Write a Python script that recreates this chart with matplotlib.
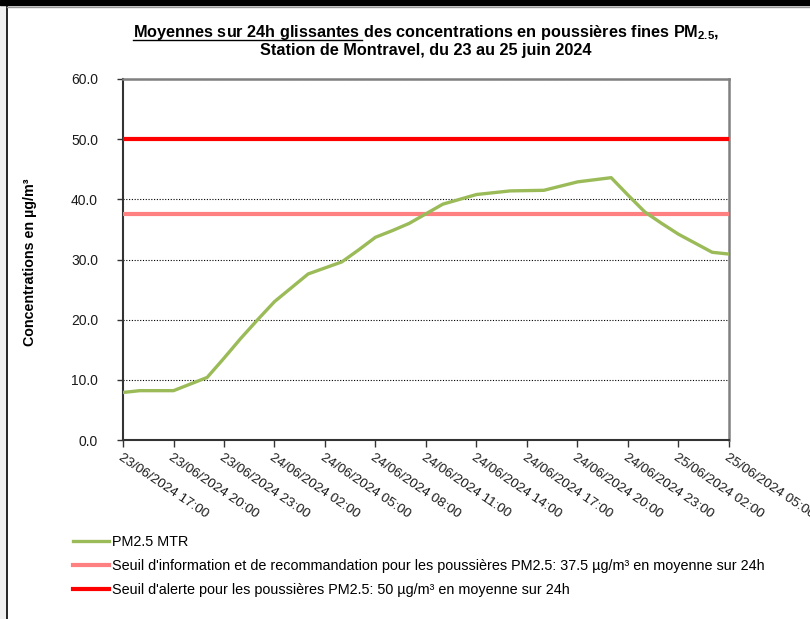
import matplotlib
matplotlib.use("Agg")
import matplotlib.pyplot as plt
from matplotlib.lines import Line2D
from matplotlib.patches import Rectangle

plt.rcParams['font.family'] = ['Liberation Sans', 'DejaVu Sans']
plt.rcParams['mathtext.fontset'] = 'custom'
plt.rcParams['mathtext.rm'] = 'Liberation Sans'
plt.rcParams['mathtext.bf'] = 'Liberation Sans:bold'

# hourly rolling 24h means, from 23/06/2024 17:00 to 25/06/2024 05:00
pm25 = [7.9, 8.2, 8.2, 8.2, 9.3, 10.4, 13.6, 16.9, 20.0, 23.0, 25.3, 27.6, 28.6,
        29.6, 31.6, 33.7, 34.8, 36.0, 37.6, 39.2, 40.0, 40.8, 41.1, 41.4, 41.45,
        41.5, 42.2, 42.9, 43.25, 43.6, 40.7, 37.9, 36.0, 34.2, 32.7, 31.2, 30.9]
seuil_info = 37.5
seuil_alerte = 50.0
tick_labels = ["23/06/2024 17:00", "23/06/2024 20:00", "23/06/2024 23:00",
               "24/06/2024 02:00", "24/06/2024 05:00", "24/06/2024 08:00",
               "24/06/2024 11:00", "24/06/2024 14:00", "24/06/2024 17:00",
               "24/06/2024 20:00", "24/06/2024 23:00", "25/06/2024 02:00",
               "25/06/2024 05:00"]
legend_labels = ["PM2.5 MTR",
                 "Seuil d'information et de recommandation pour les poussières PM2.5: 37.5 µg/m³ en moyenne sur 24h",
                 "Seuil d'alerte pour les poussières PM2.5: 50 µg/m³ en moyenne sur 24h"]

W, H = 810, 619
fig = plt.figure(figsize=(W / 100, H / 100), dpi=100)
fig.patch.set_facecolor("white")

# window frame like the screenshot
fig.patches.append(Rectangle((0, 0), 6 / W, 1, transform=fig.transFigure, color="#f0f0f0", zorder=0))
fig.patches.append(Rectangle((0, 1 - 5 / H), 1, 5 / H, transform=fig.transFigure, color="black", zorder=1))
fig.add_artist(Line2D([6.5 / W, 6.5 / W], [0, 1 - 5 / H], transform=fig.transFigure, color="black", lw=1.2))
fig.add_artist(Line2D([6.5 / W, 1], [1 - 6.5 / H, 1 - 6.5 / H], transform=fig.transFigure, color="#999999", lw=1))

ax = fig.add_axes([123 / W, 1 - 440 / H, 606 / W, 361 / H])
hours = list(range(len(pm25)))

ax.plot(hours, pm25, color="#9BBB59", lw=2.4, zorder=4, solid_joinstyle="round")
ax.axhline(seuil_info, color="#FF8080", lw=3, zorder=3)
ax.axhline(seuil_alerte, color="#FF0000", lw=3, zorder=3)

ax.set_xlim(0, len(pm25) - 1)
ax.set_ylim(0, 60)
ax.set_yticks(range(0, 61, 10))
ax.set_yticklabels(["%.1f" % v for v in range(0, 61, 10)], fontsize=10, color="#1a1a1a")
ax.set_xticks(range(0, len(pm25), 3))
ax.set_xticklabels(tick_labels, fontsize=9.7, rotation=-34, ha="left", va="top",
                   rotation_mode="anchor", color="#1a1a1a")
ax.tick_params(axis="y", length=4, width=1, color="#333333", pad=14)
ax.tick_params(axis="x", length=5, width=1, color="#333333", pad=3)
ax.yaxis.grid(True, linestyle=(0, (1, 1.5)), color="black", lw=0.8)
ax.set_axisbelow(True)

for s in ["left", "bottom"]:
    ax.spines[s].set_color("#333333")
    ax.spines[s].set_linewidth(1.5)
for s in ["top", "right"]:
    ax.spines[s].set_color("#808080")
    ax.spines[s].set_linewidth(1.8)

fig.text(30 / W, 1 - 262 / H, "Concentrations en µg/m³", rotation=90, fontsize=10.3,
         fontweight="bold", ha="center", va="center")

# title, first part underlined
tsize = 11.7
part1 = "Moyennes sur 24h glissantes "
line1 = part1 + r"des concentrations en poussières fines PM$_\mathbf{2.5}$,"
t1 = fig.text(426 / W, 1 - 37 / H, line1, fontsize=tsize, fontweight="bold", ha="center", va="baseline")
fig.text(426 / W, 1 - 55 / H, "Station de Montravel, du 23 au 25 juin 2024", fontsize=tsize,
         fontweight="bold", ha="center", va="baseline")
r = fig.canvas.get_renderer()
bb = t1.get_window_extent(r)
tmp = fig.text(0, 0, part1, fontsize=tsize, fontweight="bold")
w1 = tmp.get_window_extent(r).width
tmp.remove()
uy = 1 - 39.5 / H
fig.add_artist(Line2D([bb.x0 / W, (bb.x0 + w1) / W], [uy, uy], transform=fig.transFigure,
                      color="black", lw=1))

handles = [Line2D([], [], color="#9BBB59", lw=2.4),
           Line2D([], [], color="#FF8080", lw=3),
           Line2D([], [], color="#FF0000", lw=3)]
fig.legend(handles, legend_labels, loc="upper left", bbox_to_anchor=(73 / W, 1 - 535 / H),
           frameon=False, fontsize=10.4, handlelength=2.5, handletextpad=0.2,
           labelspacing=0.69, borderpad=0, borderaxespad=0)

fig.savefig("out.png", dpi=100)
